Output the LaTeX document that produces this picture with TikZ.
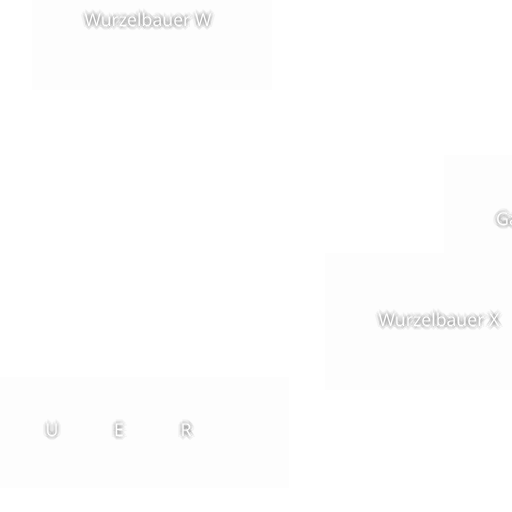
\documentclass[tikz,border=0pt]{standalone}
\usepackage{fontspec}
\setmainfont{Open Sans}
\newcommand{\stk}[3]{\rlap{\hspace*{#1bp}\raisebox{#2bp}{#3}}}
\newcommand{\blurtext}[1]{%
  \stk{0}{-4}{#1}\stk{1}{-4}{#1}\stk{-1}{-4}{#1}\stk{2}{-4}{#1}\stk{-2}{-4}{#1}%
  \stk{0}{-2}{#1}\stk{2}{-2}{#1}\stk{-2}{-2}{#1}\stk{3}{-3}{#1}\stk{-3}{-3}{#1}%
  \stk{0}{-6}{#1}\stk{2}{-6}{#1}\stk{-2}{-6}{#1}\stk{0}{-8}{#1}\stk{4}{-5}{#1}%
  \stk{-4}{-5}{#1}\stk{1}{-7}{#1}\stk{-1}{-7}{#1}\stk{0}{0}{#1}\stk{1}{-1}{#1}%
  \phantom{#1}}
\begin{document}
\begin{tikzpicture}[x=1bp,y=-1bp,
  lbl/.style={text=white,font=\fontsize{17.8}{20}\selectfont,inner sep=0pt},
  shd/.style={lbl,text=black,opacity=0.04},
  panel/.style={fill=black!0.7,draw=none}]
\useasboundingbox (0,0) rectangle (512,512);
\clip (0,0) rectangle (512,512);
\fill[white] (0,0) rectangle (512,512);
\fill[panel] (32,0) rectangle (272,90);
\fill[panel] (444,155) rectangle (512,290);
\fill[panel] (325,253) rectangle (512,390);
\fill[panel] (0,377) rectangle (289,488);
\newcommand{\shtext}[4]{%
  \node[shd,anchor=#4] at (#1) {\blurtext{#3}};
  \node[lbl,anchor=#4] (#2) at (#1) {#3};
}
\shtext{148,20}{w}{Wurzelbauer W}{center}
\shtext{496,219}{g}{Ga}{west}
\shtext{439,320}{x}{Wurzelbauer X}{center}
\shtext{-15,430}{la}{A}{center}
\shtext{52,430}{lu}{U}{center}
\shtext{119,430}{le}{E}{center}
\shtext{186,430}{lr}{R}{center}
\end{tikzpicture}
\end{document}
